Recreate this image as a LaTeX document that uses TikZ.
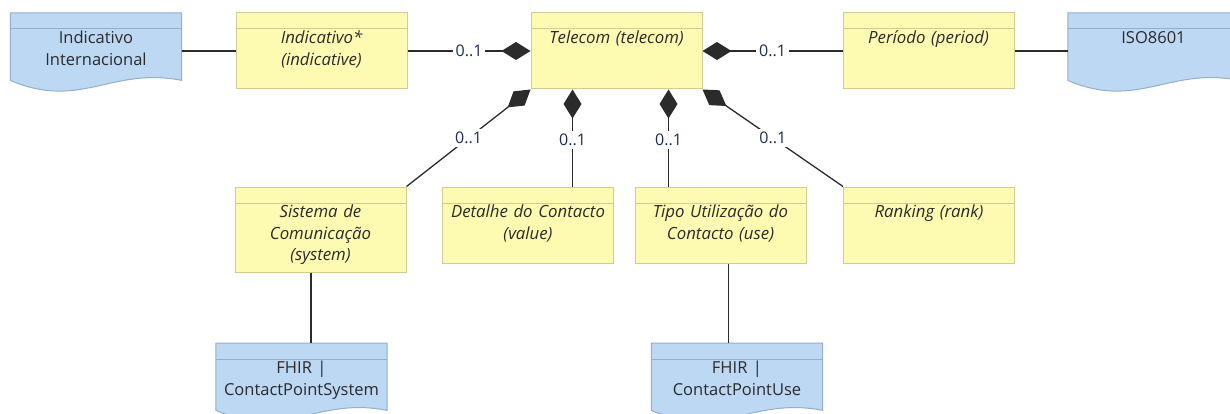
\documentclass[tikz,border=0pt]{standalone}
\usepackage{fontspec}
\setmainfont{Open Sans}
\usetikzlibrary{positioning, arrows.meta, calc}
\definecolor{clsfill}{HTML}{FDFBB2}
\definecolor{clsline}{HTML}{CFCC95}
\definecolor{extfill}{HTML}{BDD8F2}
\definecolor{extline}{HTML}{93AFCE}
\definecolor{txtcol}{HTML}{2A2A2A}
\definecolor{multcol}{HTML}{1F2D4D}
\definecolor{linecol}{HTML}{2B2B2B}

\begin{document}
\begin{tikzpicture}[
    x=1pt, y=1pt,
    % Styles
    cls/.style={% yellow class box with header band
        rectangle,
        draw=clsline,
        fill=clsfill,
        line width=1pt,
        inner sep=0pt,
        minimum width=171pt,
        minimum height=76pt,
        path picture={\draw[clsline, line width=1pt]
            ([yshift=-16pt]path picture bounding box.north west) --
            ([yshift=-16pt]path picture bounding box.north east);},
        },
    ext/.style={% blue document box (outline drawn by the macro)
        rectangle,
        inner sep=0pt,
        minimum width=171pt,
        minimum height=67pt,
        anchor=north,
        },
    txt/.style={% upright text below the header band
        anchor=north,
        inner sep=0pt,
        text width=168pt,
        align=center,
        text=txtcol,
        font=\fontsize{16.5}{21.7}\selectfont,
        },
    itxt/.style={% italic text of the class boxes
        txt,
        font=\fontsize{16.8}{21.7}\selectfont\itshape,
        },
    link/.style={% plain connector
        draw=linecol,
        line width=1.3pt,
        },
    comp/.style={% composition with filled diamond
        link,
        -{Diamond[length=29pt, width=18pt]},
        },
    mult/.style={% multiplicity label
        fill=white,
        inner sep=3pt,
        text=multcol,
        font=\fontsize{16}{18}\selectfont,
        },
    ]
\useasboundingbox (0,0) rectangle (1230,-414);
% Macro for the blue document boxes
\newcommand{\ExtBox}[3]{
    \node[ext] (#1) at (#2) {};
    \draw[extline, fill=extfill, line width=1pt] (#1.north west) -- (#1.north east) -- (#1.south east)
        .. controls ($(#1.south east)+(-70,14)$) and ($(#1.south west)+(70,-30)$) .. (#1.south west) -- cycle;
    \draw[extline, line width=1pt] ([yshift=-16pt]#1.north west) -- ([yshift=-16pt]#1.north east);
    \node[txt] (#1t) at ([yshift=-18pt]#1.north) {#3};
}
% Top row
\ExtBox{intl}{96,-13}{Indicativo\\Internacional}
\node[cls] (ind) at (321.5,-51) {};
\node[itxt] (indt) at ([yshift=-18pt]ind.north) {Indicativo*\\(indicative)};
\node[cls] (tel) at (616.5,-51) {};
\node[itxt] (telt) at ([yshift=-18pt]tel.north) {Telecom (telecom)};
\node[cls] (per) at (928.5,-51) {};
\node[itxt] (pert) at ([yshift=-18pt]per.north) {Período (period)};
\ExtBox{iso}{1153.5,-13}{ISO8601}
% Middle row
\node[cls, minimum height=85pt] (sys) at (320.5,-229.5) {};
\node[itxt] (syst) at ([yshift=-18pt]sys.north) {Sistema de\\Comunicação\\(system)};
\node[cls] (det) at (528,-225) {};
\node[itxt] (dett) at ([yshift=-18pt]det.north) {Detalhe do Contacto\\(value)};
\node[cls] (use) at (720.5,-225) {};
\node[itxt] (uset) at ([yshift=-18pt]use.north) {Tipo Utilização do\\Contacto (use)};
\node[cls] (rank) at (929,-225) {};
\node[itxt] (rankt) at ([yshift=-18pt]rank.north) {Ranking (rank)};
% Bottom row
\ExtBox{fsys}{301.5,-343}{FHIR |\\ContactPointSystem}
\ExtBox{fuse}{737,-343}{FHIR |\\ContactPointUse}
% Connectors
\draw[link] (ind.west) -- (ind.west -| intl.east);
\draw[link] (per.east) -- (per.east -| iso.west);
\draw[comp] (ind.east) -- node[mult] {0..1} (tel.west);
\draw[comp] (per.west) -- node[mult] {0..1} (tel.east);
\draw[comp] (sys.north east) -- node[mult] {0..1} (tel.south west);
\draw[comp] (rank.north west) -- node[mult] {0..1} (tel.south east);
\coordinate (t2) at ([xshift=42pt]tel.south west);
\coordinate (t3) at ([xshift=138pt]tel.south west);
\draw[comp] (t2 |- det.north) -- node[mult, pos=0.48] {0..1} (t2);
\draw[comp] (t3 |- use.north) -- node[mult, pos=0.48] {0..1} (t3);
\draw[link] ([xshift=-9.5pt]sys.south) coordinate (s1) -- (s1 |- fsys.north);
\draw[link] ([xshift=8pt]use.south) coordinate (u1) -- (u1 |- fuse.north);
\end{tikzpicture}
\end{document}
